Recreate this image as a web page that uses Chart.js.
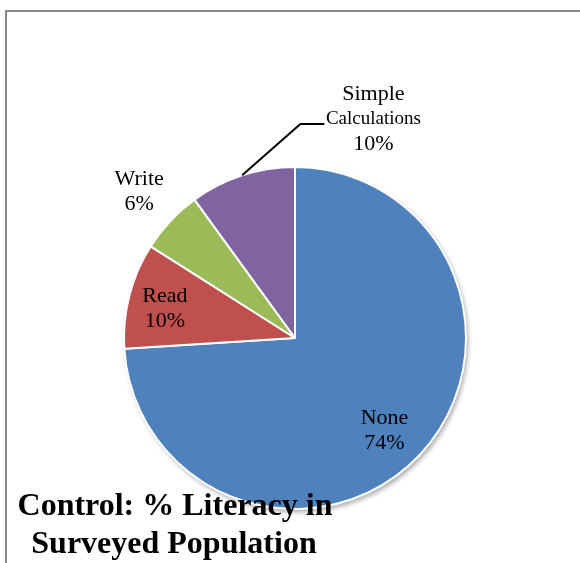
<!DOCTYPE html>
<html>
<head>
<meta charset="utf-8">
<script src="https://cdn.jsdelivr.net/npm/chart.js@4.4.1/dist/chart.umd.min.js"></script>
<style>
html, body { margin: 0; padding: 0; background: #fff; }
#wrap { width: 580px; height: 563px; position: relative; }
</style>
</head>
<body>
<div id="wrap"><canvas id="chart-pie"></canvas></div>
<script>
// literacy breakdown, control group
var categories = ["None", "Read", "Write", "Simple Calculations"];
var percents = [74, 10, 6, 10];
var sliceColors = ["#4F81BD", "#C0504D", "#9BBB59", "#8064A2"];
var labelText = [["None"], ["Read"], ["Write"], ["Simple", "Calculations"]];
var titleLines = ["Control: % Literacy in", "Surveyed Population"];

// where each data label sits: fraction of radius, angle tweak (deg) or fixed angle from top
var labelPlace = [
    { r: 0.755, delta: 2.9 },
    { r: 0.78, delta: -1.7 },
    { r: 1.25, delta: 0 },
    { r: 1.36, fixed: 19.7, leader: true }
];

var SERIF = '"Liberation Serif", "Times New Roman", serif';

var framePlugin = {
    id: 'frame',
    beforeDraw: function (chart) {
        var c = chart.ctx;
        c.save();
        c.strokeStyle = '#888888';
        c.lineWidth = 2;
        c.beginPath();
        c.moveTo(6, chart.height);
        c.lineTo(6, 11);
        c.lineTo(chart.width, 11);
        c.stroke();
        c.restore();
    }
};

// soft drop shadow under the disc
var shadowPlugin = {
    id: 'pieShadow',
    beforeDatasetsDraw: function (chart) {
        var arc = chart.getDatasetMeta(0).data[0];
        if (!arc) return;
        var c = chart.ctx;
        c.save();
        c.shadowColor = 'rgba(0,0,0,0.35)';
        c.shadowBlur = 5;
        c.shadowOffsetX = 2;
        c.shadowOffsetY = 3;
        c.fillStyle = '#ffffff';
        c.beginPath();
        c.arc(arc.x, arc.y, arc.outerRadius, 0, Math.PI * 2);
        c.fill();
        c.restore();
    }
};

var labelPlugin = {
    id: 'sliceLabels',
    afterDatasetsDraw: function (chart) {
        var c = chart.ctx;
        var arcs = chart.getDatasetMeta(0).data;
        var data = chart.data.datasets[0].data;
        var total = data.reduce(function (a, b) { return a + b; }, 0);
        c.save();
        c.fillStyle = '#000';
        c.textAlign = 'center';
        c.textBaseline = 'middle';
        arcs.forEach(function (arc, i) {
            var p = labelPlace[i];
            var mid = (arc.startAngle + arc.endAngle) / 2;
            var ang = p.fixed !== undefined ? (p.fixed - 90) * Math.PI / 180 : mid + p.delta * Math.PI / 180;
            var R = arc.outerRadius;
            var lx = arc.x + Math.cos(ang) * R * p.r;
            var ly = arc.y + Math.sin(ang) * R * p.r;
            var lines = labelText[i].concat([Math.round(data[i] / total * 100) + '%']);
            var step = 25;
            var y0 = ly - (lines.length - 1) * step / 2;
            lines.forEach(function (t, k) {
                var small = (lines.length === 3 && k === 1);
                c.font = (small ? 19 : 22) + 'px ' + SERIF;
                c.fillText(t, lx, y0 + k * step);
            });
            if (p.leader) {
                var ex = arc.x + Math.cos(mid) * R;
                var ey = arc.y + Math.sin(mid) * R;
                c.strokeStyle = '#000';
                c.lineWidth = 2;
                c.beginPath();
                c.moveTo(ex, ey);
                c.lineTo(lx - 73, ly + 5);
                c.lineTo(lx - 49, ly + 5);
                c.stroke();
            }
        });
        c.restore();
    }
};

var titlePlugin = {
    id: 'bottomTitle',
    afterDraw: function (chart) {
        var c = chart.ctx;
        c.save();
        c.fillStyle = '#000';
        c.textAlign = 'center';
        c.textBaseline = 'alphabetic';
        c.font = 'bold 32px ' + SERIF;
        c.fillText(titleLines[0], 175, 515);
        c.fillText(titleLines[1], 174, 553);
        c.restore();
    }
};

var ctx = document.getElementById('chart-pie').getContext('2d');
new Chart(ctx, {
    type: 'pie',
    data: {
        labels: categories,
        datasets: [{
            data: percents,
            backgroundColor: sliceColors,
            borderColor: '#ffffff',
            borderWidth: 2
        }]
    },
    options: {
        responsive: true,
        maintainAspectRatio: false,
        animation: false,
        layout: {
            padding: { left: 123, right: 113, top: 166, bottom: 53 }
        },
        plugins: {
            legend: { display: false },
            tooltip: { enabled: false }
        }
    },
    plugins: [framePlugin, shadowPlugin, labelPlugin, titlePlugin]
});
</script>
</body>
</html>
